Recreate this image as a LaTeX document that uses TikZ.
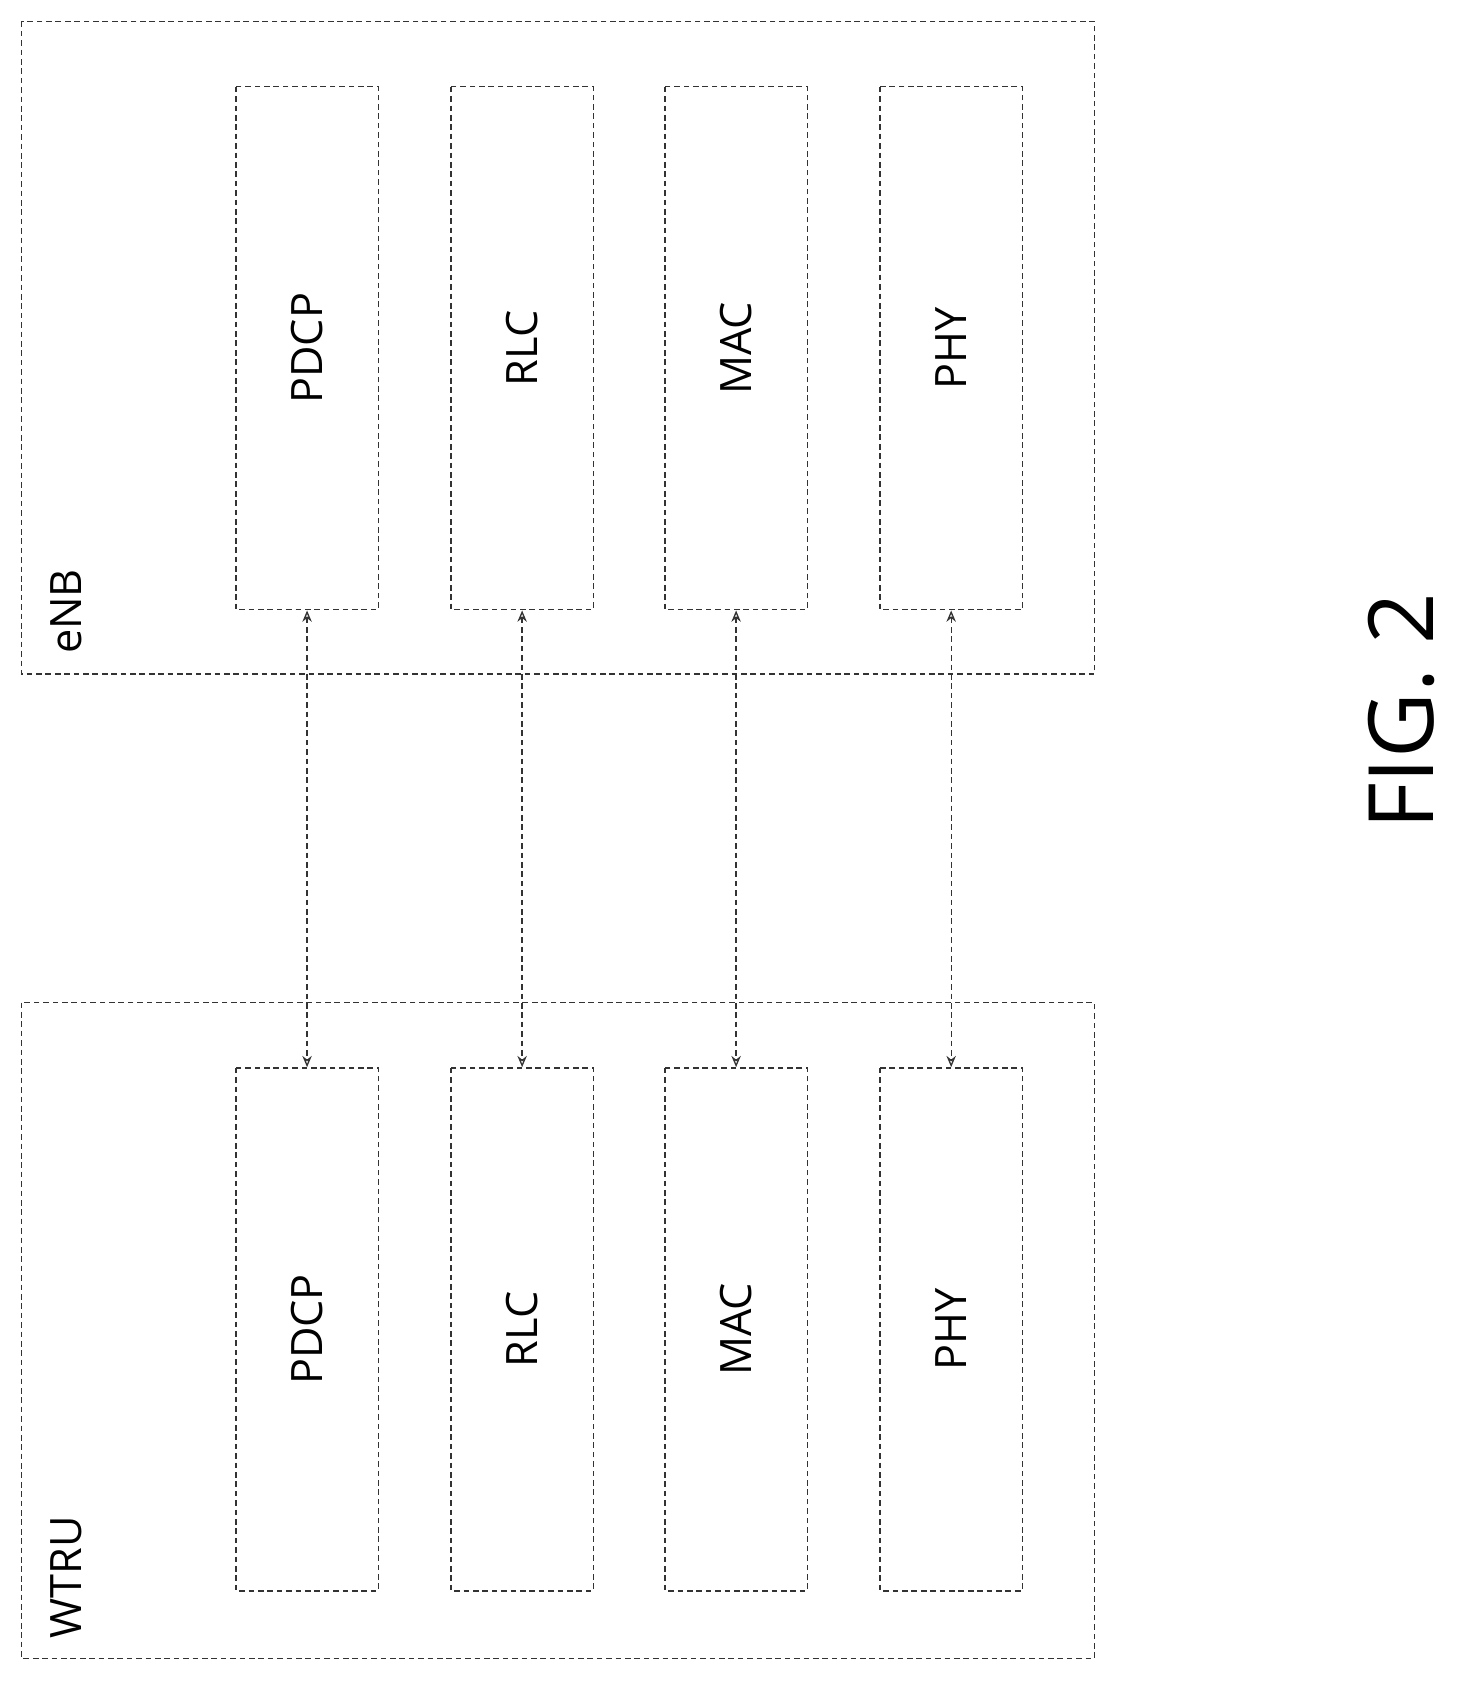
\documentclass[tikz,border=0pt]{standalone}
\usepackage{fontspec}
\setmainfont{Open Sans}
\usetikzlibrary{arrows.meta}

\begin{document}
\begin{tikzpicture}[x=0.02cm,y=-0.02cm,
    frame/.style={draw=black!80,densely dashed,line width=0.7pt},
    layer/.style={frame,rotate=90,minimum width=9.78cm,minimum height=2.66cm,font=\fontsize{23}{27}\selectfont},
    link/.style={draw=black!80,densely dashed,line width=0.7pt,{Stealth[open,length=6pt,width=5pt]}-{Stealth[open,length=6pt,width=5pt]}}]
  \useasboundingbox (0,0) rectangle (1366,1573);
  % outer boxes
  \draw[frame] (20,20) rectangle (1023,630);
  \draw[frame] (20,937) rectangle (1023,1550);
  \node[rotate=90,anchor=south west,font=\fontsize{23}{27}\selectfont,inner sep=2pt] (enb) at (80,615) {eNB};
  \node[rotate=90,anchor=south west,font=\fontsize{23}{27}\selectfont,inner sep=2pt] (wtru) at (80,1535) {WTRU};
  % protocol layers
  \foreach \name/\x in {PDCP/287,RLC/488,MAC/688,PHY/889}{
    \node[layer] (\name E) at (\x,325.5) {\name};
    \node[layer] (\name W) at (\x,1242.5) {\name};
    \draw[link] (\name E) -- (\name W);
  }
  \node[rotate=90,font=\fontsize{48}{54}\selectfont] (fig) at (1310,665) {FIG. 2};
\end{tikzpicture}
\end{document}
